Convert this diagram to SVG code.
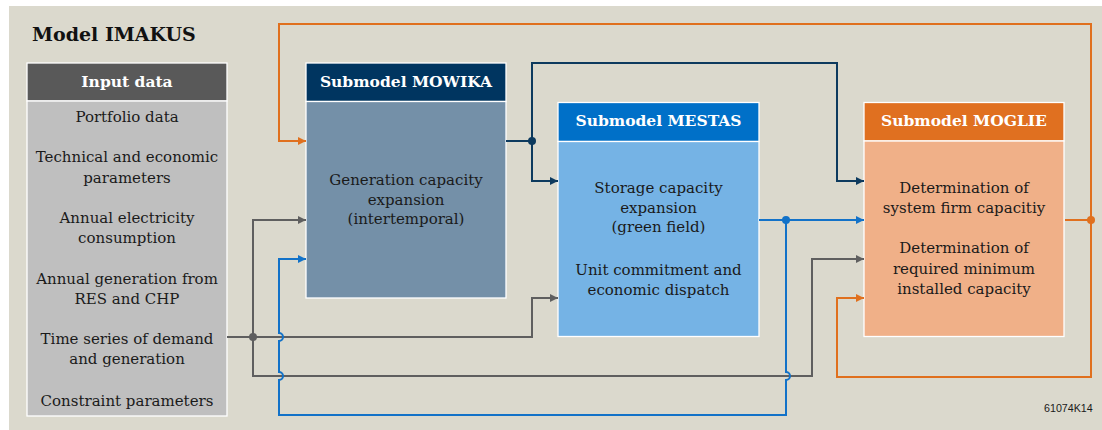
<svg xmlns="http://www.w3.org/2000/svg" width="1102" height="430" viewBox="0 0 1102 430">
<style>
.t{font-family:"DejaVu Serif","Liberation Serif",serif;font-size:15px;fill:#1a1a1a;text-anchor:middle}
.h{font-family:"DejaVu Serif","Liberation Serif",serif;font-size:15.5px;font-weight:bold;fill:#ffffff;text-anchor:middle}
.ttl{font-family:"DejaVu Serif","Liberation Serif",serif;font-size:19px;font-weight:bold;fill:#111111}
.lbl{font-family:"Liberation Sans",Arial,sans-serif;font-size:10.7px;fill:#1a1a1a}
.box{stroke:#ffffff;stroke-width:1.3}
.c{fill:none;stroke-width:2}
.g{stroke:#5f5f5f}.n{stroke:#0d3a5e}.b{stroke:#1272c8}.o{stroke:#e0701e}
</style>
<defs>
<marker id="ag" viewBox="0 0 8 8" refX="8" refY="4" markerWidth="8" markerHeight="8" markerUnits="userSpaceOnUse" orient="auto"><path d="M0,0 L8,4 L0,8 z" fill="#5f5f5f"/></marker>
<marker id="an" viewBox="0 0 8 8" refX="8" refY="4" markerWidth="8" markerHeight="8" markerUnits="userSpaceOnUse" orient="auto"><path d="M0,0 L8,4 L0,8 z" fill="#0d3a5e"/></marker>
<marker id="ab" viewBox="0 0 8 8" refX="8" refY="4" markerWidth="8" markerHeight="8" markerUnits="userSpaceOnUse" orient="auto"><path d="M0,0 L8,4 L0,8 z" fill="#1272c8"/></marker>
<marker id="ao" viewBox="0 0 8 8" refX="8" refY="4" markerWidth="8" markerHeight="8" markerUnits="userSpaceOnUse" orient="auto"><path d="M0,0 L8,4 L0,8 z" fill="#e0701e"/></marker>
</defs>
<rect x="0" y="0" width="1102" height="430" fill="#ffffff"/>
<rect x="9" y="6" width="1093" height="424" fill="#dbd9cd"/>
<text class="ttl" x="32" y="40.5">Model IMAKUS</text>
<g id="input">
<rect class="box" x="27" y="63" width="200" height="38" fill="#595959"/>
<rect class="box" x="27" y="101" width="200" height="315" fill="#bfbfbf"/>
<text class="h" x="127" y="87">Input data</text>
<text class="t" x="127" y="121.5">Portfolio data</text>
<text class="t" x="127" y="162">Technical and economic</text>
<text class="t" x="127" y="182.5">parameters</text>
<text class="t" x="127" y="222.5">Annual electricity</text>
<text class="t" x="127" y="243">consumption</text>
<text class="t" x="127" y="283.5">Annual generation from</text>
<text class="t" x="127" y="304">RES and CHP</text>
<text class="t" x="127" y="344">Time series of demand</text>
<text class="t" x="127" y="364">and generation</text>
<text class="t" x="127" y="405.5">Constraint parameters</text>
</g>
<g id="mowika">
<rect class="box" x="306" y="63" width="200" height="38.5" fill="#003560"/>
<rect class="box" x="306" y="101.5" width="200" height="196.5" fill="#7490a8"/>
<text class="h" x="406" y="86.7">Submodel MOWIKA</text>
<text class="t" x="406" y="185">Generation capacity</text>
<text class="t" x="406" y="204.5">expansion</text>
<text class="t" x="406" y="224">(intertemporal)</text>
</g>
<g id="mestas">
<rect class="box" x="558" y="102.5" width="201" height="39" fill="#0070c8"/>
<rect class="box" x="558" y="141.5" width="201" height="195" fill="#75b3e5"/>
<text class="h" x="658.5" y="126">Submodel MESTAS</text>
<text class="t" x="658.5" y="193">Storage capacity</text>
<text class="t" x="658.5" y="212.5">expansion</text>
<text class="t" x="658.5" y="232">(green field)</text>
<text class="t" x="658.5" y="275">Unit commitment and</text>
<text class="t" x="658.5" y="295">economic dispatch</text>
</g>
<g id="moglie">
<rect class="box" x="864" y="102.5" width="200" height="38.5" fill="#e07020"/>
<rect class="box" x="864" y="141" width="200" height="195.5" fill="#f0b088"/>
<text class="h" x="964" y="126">Submodel MOGLIE</text>
<text class="t" x="964" y="193">Determination of</text>
<text class="t" x="964" y="213">system firm capacitiy</text>
<text class="t" x="964" y="253">Determination of</text>
<text class="t" x="964" y="273.5">required minimum</text>
<text class="t" x="964" y="294">installed capacity</text>
</g>
<g id="connectors">
<path class="c o" d="M1065,220 H1091 V24 H279 V141 H306" marker-end="url(#ao)"/>
<path class="c o" d="M1091,220 V377 H837 V298 H864" marker-end="url(#ao)"/>
<circle cx="1091" cy="220" r="4" fill="#e0701e"/>
<path class="c n" d="M506,141 H532 V63 H837 V181 H864" marker-end="url(#an)"/>
<path class="c n" d="M532,141 V181 H558" marker-end="url(#an)"/>
<circle cx="532" cy="141" r="4" fill="#0d3a5e"/>
<path class="c g" d="M227,337 H532 V298 H558" marker-end="url(#ag)"/>
<path class="c g" d="M253,337 V220 H306" marker-end="url(#ag)"/>
<path class="c g" d="M253,337 V376 H812 V259 H864" marker-end="url(#ag)"/>
<circle cx="253" cy="337" r="4" fill="#5f5f5f"/>
<path class="c b" d="M759,220 H864" marker-end="url(#ab)"/>
<path class="c b" d="M786,220 V372 A4,4 0 0 1 786,380 V415 H279 V380 A4,4 0 0 0 279,372 V341 A4,4 0 0 0 279,333 V259 H306" marker-end="url(#ab)"/>
<circle cx="786" cy="220" r="4" fill="#1272c8"/>
</g>
<text class="lbl" x="1044" y="412.3">61074K14</text>
</svg>
